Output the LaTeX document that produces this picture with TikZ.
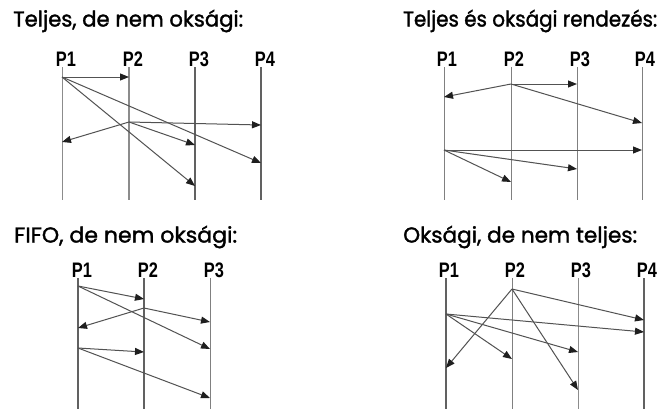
\documentclass[tikz,border=0pt]{standalone}
\usepackage{fontspec}
\setmainfont{Poppins}[FakeBold=1.5]
\newfontfamily\plabfont{Liberation Sans}
\usetikzlibrary{arrows.meta}
\newcommand\plbl[1]{\scalebox{0.78}[1]{\bfseries #1}}
\newcommand\ttl[2]{\resizebox{#1pt}{\height}{#2}}
\begin{document}
\begin{tikzpicture}[x=1pt,y=-1pt,
  title/.style={anchor=west,inner sep=0pt,font=\fontsize{21.5}{21.5}\selectfont},
  plab/.style={anchor=south,inner sep=0pt,font=\plabfont\fontsize{21}{21}\selectfont},
  proc/.style={draw=black!50,line width=1pt},
  procthin/.style={draw=black!45,line width=0.7pt},
  procthick/.style={draw=black!45,line width=1.8pt},
  procdark/.style={draw=black!62,line width=1.1pt},
  msg/.style={draw=black!68,line width=1pt,-{Triangle[length=9pt,width=7pt,fill=black!88,color=black!88]}}]
\useasboundingbox (0,0) rectangle (669,410);
\fill[white] (0,0) rectangle (669,410);

% ---------- Panel 1 ----------
\node[title] (t1) at (13,21) {\ttl{230}{Teljes, de nem oksági:}};
\foreach \n/\x/\s in {1/62/procthin,2/129/procthick,3/195/procdark,4/261/procdark}{
  \node[plab] (a\n) at (\x+4,67) {\plbl{P\n}};
  \coordinate (a\n t) at (\x,67);
  \coordinate (a\n b) at (\x,200);
  \draw[\s] (a\n t) -- (a\n b);
}
\coordinate (a1e1) at (62,77);
\coordinate (a2r1) at (129,77);
\coordinate (a4r1) at (261,163);
\coordinate (a3r1) at (195,186);
\coordinate (a2e2) at (129,122);
\coordinate (a1r2) at (62,142);
\coordinate (a4r2) at (261,125);
\coordinate (a3r2) at (195,145);
\draw[msg] (a1e1) -- (a2r1);
\draw[msg] (a1e1) -- (a4r1);
\draw[msg] (a1e1) -- (a3r1);
\draw[msg] (a2e2) -- (a1r2);
\draw[msg] (a2e2) -- (a4r2);
\draw[msg] (a2e2) -- (a3r2);

% ---------- Panel 2 ----------
\node[title] (t2) at (403,21) {\ttl{254}{Teljes és oksági rendezés:}};
\foreach \n/\x in {1/444,2/511,3/577,4/642}{
  \node[plab] (b\n) at (\x+3,67) {\plbl{P\n}};
  \coordinate (b\n t) at (\x,67);
  \coordinate (b\n b) at (\x,200);
  \draw[proc] (b\n t) -- (b\n b);
}
\coordinate (b2e1) at (511,84);
\coordinate (b3r1) at (577,84);
\coordinate (b1r1) at (444,97);
\coordinate (b4r1) at (642,123);
\coordinate (b1e2) at (444,150);
\coordinate (b4r2) at (642,150);
\coordinate (b3r2) at (577,169);
\coordinate (b2r2) at (511,182);
\draw[msg] (b2e1) -- (b3r1);
\draw[msg] (b2e1) -- (b1r1);
\draw[msg] (b2e1) -- (b4r1);
\draw[msg] (b1e2) -- (b4r2);
\draw[msg] (b1e2) -- (b3r2);
\draw[msg] (b1e2) -- (b2r2);

% ---------- Panel 3 ----------
\node[title] (t3) at (14,237) {\ttl{223}{FIFO, de nem oksági:}};
\foreach \n/\x/\s in {1/78/procdark,2/144/procdark,3/210/proc}{
  \node[plab] (c\n) at (\x+4,278) {\plbl{P\n}};
  \coordinate (c\n t) at (\x,278);
  \coordinate (c\n b) at (\x,409);
  \draw[\s] (c\n t) -- (c\n b);
}
\coordinate (c1e1) at (78,286);
\coordinate (c2r1) at (144,299);
\coordinate (c3r1) at (210,349);
\coordinate (c2e2) at (144,308);
\coordinate (c1r2) at (78,328);
\coordinate (c3r2) at (210,322);
\coordinate (c1e3) at (78,348);
\coordinate (c2r3) at (144,352);
\coordinate (c3r3) at (210,398);
\draw[msg] (c1e1) -- (c2r1);
\draw[msg] (c1e1) -- (c3r1);
\draw[msg] (c2e2) -- (c1r2);
\draw[msg] (c2e2) -- (c3r2);
\draw[msg] (c1e3) -- (c2r3);
\draw[msg] (c1e3) -- (c3r3);

% ---------- Panel 4 ----------
\node[title] (t4) at (403,237) {\ttl{234}{Oksági, de nem teljes:}};
\foreach \n/\x/\s in {1/446/procdark,2/512/proc,3/578/procthin,4/644/procdark}{
  \node[plab] (d\n) at (\x+3,278) {\plbl{P\n}};
  \coordinate (d\n t) at (\x,278);
  \coordinate (d\n b) at (\x,409);
  \draw[\s] (d\n t) -- (d\n b);
}
\coordinate (d2e1) at (512,289);
\coordinate (d4r1) at (644,320);
\coordinate (d1r1) at (446,368);
\coordinate (d3r1) at (578,390);
\coordinate (d1e2) at (446,314);
\coordinate (d4r2) at (644,332);
\coordinate (d3r2) at (578,352);
\coordinate (d2r2) at (512,359);
\draw[msg] (d2e1) -- (d4r1);
\draw[msg] (d2e1) -- (d1r1);
\draw[msg] (d2e1) -- (d3r1);
\draw[msg] (d1e2) -- (d4r2);
\draw[msg] (d1e2) -- (d3r2);
\draw[msg] (d1e2) -- (d2r2);
\end{tikzpicture}
\end{document}
